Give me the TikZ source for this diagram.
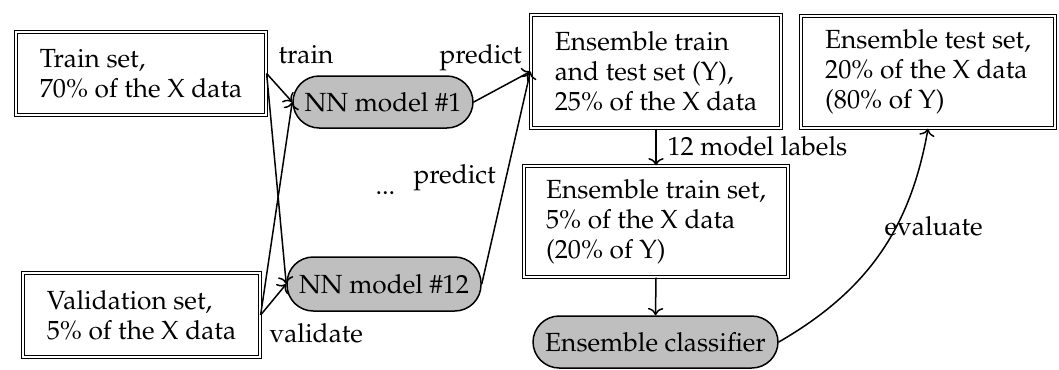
\documentclass[tikz,border=0pt]{standalone}
\usepackage[T1]{fontenc}
\renewcommand{\rmdefault}{ppl}
\usetikzlibrary{arrows.meta}
\tikzset{
  txt/.style={font=\fontsize{10.5}{12}\selectfont},
  setbox/.style={txt, draw, double, double distance=0.6pt, line width=0.5pt, align=left, inner sep=0pt},
  model/.style={txt, draw, line width=0.6pt, fill=lightgray, rounded corners=10.5pt, inner sep=0pt},
  lbl/.style={txt, inner sep=0pt, anchor=base west},
  conn/.style={->, line width=0.6pt}
}
\begin{document}
\begin{tikzpicture}[x=0.4pt,y=-0.4pt]
\useasboundingbox (0,0) rectangle (1059,369);
% set boxes (path size = outer size - 4px)
\node[setbox, minimum width=250*0.4pt, minimum height=83*0.4pt] (train) at (141,73.5) {Train set,\\70\% of the X data};
\node[setbox, minimum width=237*0.4pt, minimum height=84*0.4pt] (val) at (141.5,315) {Validation set,\\5\% of the X data};
\node[setbox, minimum width=250*0.4pt, minimum height=113*0.4pt] (ett) at (656,71.5) {Ensemble train\\and test set (Y),\\25\% of the X data};
\node[setbox, minimum width=254*0.4pt, minimum height=112*0.4pt] (etest) at (928,72) {Ensemble test set,\\20\% of the X data\\(80\% of Y)};
\node[setbox, minimum width=264*0.4pt, minimum height=111*0.4pt] (etrain) at (656,221.5) {Ensemble train set,\\5\% of the X data\\(20\% of Y)};
% models
\node[model, minimum width=180*0.4pt, minimum height=52*0.4pt] (nn1) at (383,102) {NN model \#1};
\node[model, minimum width=194*0.4pt, minimum height=54*0.4pt] (nn12) at (384,284) {NN model \#12};
\node[model, minimum width=245*0.4pt, minimum height=52*0.4pt] (cls) at (655.5,342) {Ensemble classifier};
% labels
\node[lbl] (ltrain) at (278,63) {train};
\node[lbl] (lpred1) at (439,63) {predict};
\node[lbl] (lpred2) at (413,183) {predict};
\node[lbl] (ldots) at (375,194) {...};
\node[lbl] (lval) at (269,342) {validate};
\node[lbl] (l12) at (667,155) {12 model labels};
\node[lbl] (leval) at (884,235) {evaluate};
% connectors
\draw[conn] (train.east) -- (nn1.west);
\draw[conn] (train.east) -- (nn12.west);
\draw[conn] (val.east) -- (nn1.west);
\draw[conn] (val.east) -- (nn12.west);
\draw[conn] (nn1.east) -- (ett.west);
\draw[conn] (nn12.east) -- (ett.west);
\draw[conn] (ett.south) -- (etrain.north);
\draw[conn] (etrain.south) -- (cls.north);
\draw[conn] (cls.east) to[out=30,in=-100] (etest.south);
\end{tikzpicture}
\end{document}
